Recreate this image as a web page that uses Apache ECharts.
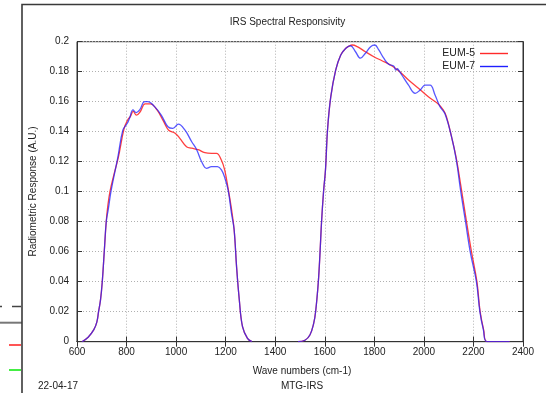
<!DOCTYPE html>
<html>
<head>
<meta charset="utf-8">
<script src="https://cdn.jsdelivr.net/npm/echarts@6/dist/echarts.min.js"></script>
<style>
html,body{margin:0;padding:0;background:#fff;}
#c{width:546px;height:393px;}
</style>
</head>
<body>
<div id="c"></div>
<script>
// ---- data ----
const xTicks = [600, 800, 1000, 1200, 1400, 1600, 1800, 2000, 2200, 2400];
const yTicks = [0, 0.02, 0.04, 0.06, 0.08, 0.1, 0.12, 0.14, 0.16, 0.18, 0.2];

const eum5Wn = [620, 645, 668, 680, 687, 695, 702, 710, 718, 724, 733, 750, 767, 790, 805, 815, 827, 840, 855, 875, 896, 923, 950, 970, 996, 1015, 1042, 1063, 1089, 1116, 1143, 1163, 1183, 1196, 1210, 1222, 1234, 1244, 1255, 1268, 1288, 1306,
  1400,
  1492, 1520, 1540, 1555, 1563, 1574, 1581, 1587, 1595, 1603, 1611, 1624, 1644, 1664, 1685, 1700, 1711, 1731, 1764, 1798, 1831, 1865, 1898, 1938, 1978, 2018, 2058, 2078, 2091, 2111, 2131, 2150, 2171, 2192, 2214, 2227, 2241, 2255, 2346];
const eum5Val = [0, 0.003, 0.008, 0.013, 0.02, 0.028, 0.04, 0.06, 0.08, 0.09, 0.1, 0.112, 0.123, 0.142, 0.148, 0.150, 0.1535, 0.151, 0.1533, 0.1585, 0.1585, 0.1545, 0.1467, 0.141, 0.139, 0.1356, 0.130, 0.129, 0.128, 0.126, 0.1256, 0.1256, 0.121, 0.1145, 0.102, 0.09, 0.075, 0.05, 0.028, 0.010, 0.0022, 0,
  '-',
  0, 0.001, 0.0045, 0.012, 0.02, 0.04, 0.06, 0.08, 0.1, 0.115, 0.141, 0.163, 0.181, 0.191, 0.1956, 0.1973, 0.1978, 0.1967, 0.1933, 0.19, 0.1873, 0.1845, 0.1807, 0.1745, 0.169, 0.1633, 0.1585, 0.1545, 0.15, 0.137, 0.122, 0.103, 0.081, 0.06, 0.04, 0.02, 0.008, 0, 0];

const eum7Wn = [620, 645, 668, 680, 687, 695, 702, 710, 718, 726, 738, 765, 785, 803, 812, 826, 839, 853, 873, 886, 913, 940, 967, 987, 1009, 1036, 1063, 1083, 1103, 1123, 1143, 1167, 1183, 1197, 1210, 1224, 1234, 1244, 1255, 1268, 1288, 1306,
  1400,
  1492, 1520, 1540, 1555, 1563, 1574, 1581, 1587, 1595, 1603, 1611, 1624, 1644, 1664, 1685, 1704, 1724, 1744, 1764, 1785, 1802, 1818, 1838, 1858, 1878, 1887, 1893, 1898, 1911, 1938, 1965, 1985, 2005, 2025, 2045, 2065, 2085, 2111, 2131, 2148, 2168, 2188, 2212, 2226, 2240, 2255, 2346];
const eum7Val = [0, 0.003, 0.008, 0.013, 0.02, 0.028, 0.04, 0.06, 0.08, 0.088, 0.101, 0.123, 0.141, 0.1456, 0.149, 0.1545, 0.1527, 0.1545, 0.160, 0.160, 0.1567, 0.1511, 0.1433, 0.1422, 0.145, 0.141, 0.1333, 0.128, 0.12, 0.1156, 0.1167, 0.1167, 0.1145, 0.109, 0.101, 0.085, 0.075, 0.05, 0.028, 0.010, 0.0022, 0,
  '-',
  0, 0.001, 0.0045, 0.012, 0.02, 0.04, 0.06, 0.08, 0.1, 0.115, 0.141, 0.163, 0.181, 0.191, 0.1956, 0.1973, 0.1933, 0.189, 0.1923, 0.1967, 0.1978, 0.1945, 0.189, 0.185, 0.1838, 0.181, 0.182, 0.181, 0.1778, 0.171, 0.1656, 0.1678, 0.171, 0.171, 0.1645, 0.1567, 0.152, 0.137, 0.121, 0.101, 0.08, 0.059, 0.04, 0.02, 0.008, 0, 0];

const seriesNames = ['EUM-5', 'EUM-7'];
const seriesColors = ['#ff2a2a', '#1f1fff'];
const titleText = 'IRS Spectral Responsivity';
const xName = 'Wave numbers (cm-1)';
const yName = 'Radiometric Response (A.U.)';
const footLeft = '22-04-17';
const footCenter = 'MTG-IRS';

// ---- chart ----
const FONT = '"Liberation Sans", Arial, sans-serif';
const TXT = '#222';
const pairs = (xs, ys) => xs.map((x, i) => [x, ys[i]]);

const chart = echarts.init(document.getElementById('c'), null, {renderer: 'canvas'});
const grid = {left: 77, right: 23, top: 41.7, bottom: 51.3, show: true, borderColor: '#333', borderWidth: 1, backgroundColor: 'transparent'};
const splitStyle = {show: true, lineStyle: {color: '#b0b0b0', width: 1, type: [1, 2]}};

chart.setOption({
  animation: false,
  backgroundColor: '#fff',
  grid: grid,
  legend: {
    data: seriesNames.map((n, i) => ({name: n, itemStyle: {color: seriesColors[i], opacity: 1}})),
    orient: 'vertical',
    right: 33,
    top: 43,
    align: 'right',
    itemWidth: 28,
    itemHeight: 10,
    itemGap: 2,
    textStyle: {fontFamily: FONT, fontSize: 10.5, color: TXT},
    icon: 'path://M0,4.3 L28,4.3 L28,5.7 L0,5.7 Z'
  },
  xAxis: [{
    type: 'value', min: 600, max: 2400, interval: 200, position: 'bottom',
    axisLine: {show: true, onZero: false, lineStyle: {color: '#333'}},
    axisTick: {show: true, inside: true, length: 5, lineStyle: {color: '#333'}},
    axisLabel: {show: true, margin: 6, fontFamily: FONT, fontSize: 10, color: TXT,
      formatter: v => String(v)},
    splitLine: splitStyle
  }, {
    type: 'value', min: 600, max: 2400, interval: 200, position: 'top',
    axisLine: {show: true, lineStyle: {color: '#333'}},
    axisTick: {show: true, inside: true, length: 5, lineStyle: {color: '#333'}},
    axisLabel: {show: false}, splitLine: {show: false}
  }],
  yAxis: [{
    type: 'value', min: 0, max: 0.2, interval: 0.02, position: 'left',
    axisLine: {show: true, onZero: false, lineStyle: {color: '#333'}},
    axisTick: {show: true, inside: true, length: 5, lineStyle: {color: '#333'}},
    axisLabel: {show: true, margin: 8, fontFamily: FONT, fontSize: 10, color: TXT,
      formatter: v => String(Math.round(v * 100) / 100)},
    splitLine: splitStyle
  }, {
    type: 'value', min: 0, max: 0.2, interval: 0.02, position: 'right',
    axisLine: {show: true, lineStyle: {color: '#333'}},
    axisTick: {show: true, inside: true, length: 5, lineStyle: {color: '#333'}},
    axisLabel: {show: false}, splitLine: {show: false}
  }],
  series: [{
    name: seriesNames[0], type: 'line', xAxisIndex: 0, yAxisIndex: 0,
    data: pairs(eum5Wn, eum5Val), symbol: 'none', smooth: 0.4, connectNulls: false,
    lineStyle: {color: seriesColors[0], width: 1.3, opacity: 0.9}, itemStyle: {color: seriesColors[0]}
  }, {
    name: seriesNames[1], type: 'line', xAxisIndex: 0, yAxisIndex: 0,
    data: pairs(eum7Wn, eum7Val), symbol: 'none', smooth: 0.4, connectNulls: false,
    lineStyle: {color: seriesColors[1], width: 1.3, opacity: 0.75}, itemStyle: {color: seriesColors[1]}
  }],
  graphic: [
    // outer window frame
    {type: 'polyline', shape: {points: [[22, 393], [22, 4.5], [546, 4.5]]}, style: {stroke: '#3a3a3a', lineWidth: 1.6, fill: null}, z: 100},
    // fragments of another window on the left
    {type: 'line', shape: {x1: 0, y1: 306.5, x2: 2, y2: 306.5}, style: {stroke: '#444', lineWidth: 1.5}},
    {type: 'line', shape: {x1: 12, y1: 306.5, x2: 21, y2: 306.5}, style: {stroke: '#444', lineWidth: 1.5}},
    {type: 'line', shape: {x1: 0, y1: 322.7, x2: 22, y2: 322.7}, style: {stroke: '#777', lineWidth: 2}},
    {type: 'line', shape: {x1: 9, y1: 345, x2: 21, y2: 345}, style: {stroke: '#ff5555', lineWidth: 2}},
    {type: 'line', shape: {x1: 9, y1: 370, x2: 21, y2: 370}, style: {stroke: '#44ee44', lineWidth: 2}},
    // texts
    {type: 'text', x: 287.5, y: 22.5, style: {text: titleText, align: 'center', verticalAlign: 'middle', font: '10px ' + FONT, fill: TXT}},
    {type: 'text', x: 302, y: 371.5, style: {text: xName, align: 'center', verticalAlign: 'middle', font: '10px ' + FONT, fill: TXT}},
    {type: 'text', x: 33, y: 191.5, rotation: Math.PI / 2, style: {text: yName, align: 'center', verticalAlign: 'middle', font: '10px ' + FONT, fill: TXT}},
    {type: 'text', x: 38, y: 386, style: {text: footLeft, align: 'left', verticalAlign: 'middle', font: '10px ' + FONT, fill: TXT}},
    {type: 'text', x: 302, y: 386, style: {text: footCenter, align: 'center', verticalAlign: 'middle', font: '10px ' + FONT, fill: TXT}}
  ]
});
</script>
</body>
</html>
